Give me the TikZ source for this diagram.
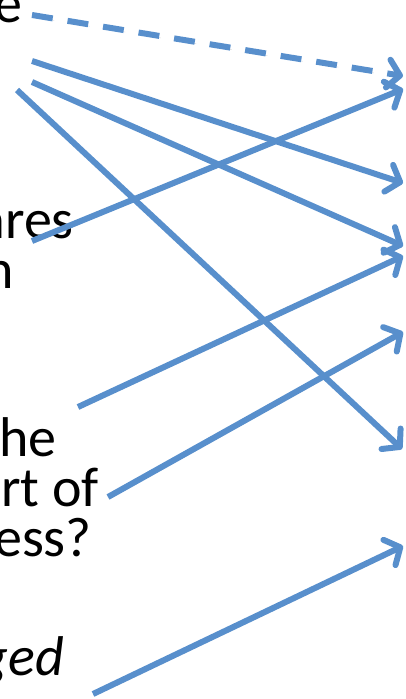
\documentclass[tikz,border=0pt]{standalone}
\usepackage{fontspec}
\setmainfont{Carlito}
\usetikzlibrary{arrows.meta}
\definecolor{linkblue}{RGB}{88,143,204}
\tikzset{
  frag/.style={inner sep=0pt, anchor=base east, font=\fontsize{56}{56}\selectfont},
  shade line/.style={draw=black, draw opacity=0.15, transform canvas={xshift=1.5pt,yshift=-2pt}},
  link/.style={draw=linkblue, line width=6pt,
    -{Straight Barb[length=12pt,width=28pt,line width=6pt,round]},
    preaction={shade line}},
  dlink/.style={draw=linkblue, line width=6pt, dash pattern=on 21pt off 15pt,
    -{Straight Barb[length=12pt,width=28pt,line width=6pt,round]},
    preaction={shade line, dash pattern=on 21pt off 15pt}}
}
\begin{document}
\begin{tikzpicture}[x=1pt,y=-1pt]
\useasboundingbox (0,0) rectangle (406,699);
% text fragments along the left edge
\node[frag] (t1) at (23,22) {e};
\node[frag] (t2) at (74,238) {ares};
\node[frag] (t3) at (14,288) {n};
\node[frag] (t4) at (57,456) {the};
\node[frag] (t5) at (99,506) {art of};
\node[frag] (t6) at (92,556) {cess?};
\node[frag, font=\fontsize{56}{56}\selectfont\itshape] (t7) at (64,675) {ged};
% connector ends
\coordinate (s1) at (32,15);   \coordinate (e1) at (403,76);
\coordinate (s2) at (32,61);   \coordinate (e2) at (403,183);
\coordinate (s3) at (32,82);   \coordinate (e3) at (403,246);
\coordinate (s4) at (17,90);   \coordinate (e4) at (402,449);
\coordinate (s5) at (32,241);  \coordinate (e5) at (403,89);
\coordinate (s6) at (78,407);  \coordinate (e6) at (403,256);
\coordinate (s7) at (108,497); \coordinate (e7) at (403,332);
\coordinate (s8) at (93,694);  \coordinate (e8) at (403,546);
% connectors
\draw[dlink] (s1) -- (e1);
\draw[link] (s2) -- (e2);
\draw[link] (s3) -- (e3);
\draw[link] (s4) -- (e4);
\draw[link] (s5) -- (e5);
\draw[link] (s6) -- (e6);
\draw[link] (s7) -- (e7);
\draw[link] (s8) -- (e8);
\end{tikzpicture}
\end{document}
